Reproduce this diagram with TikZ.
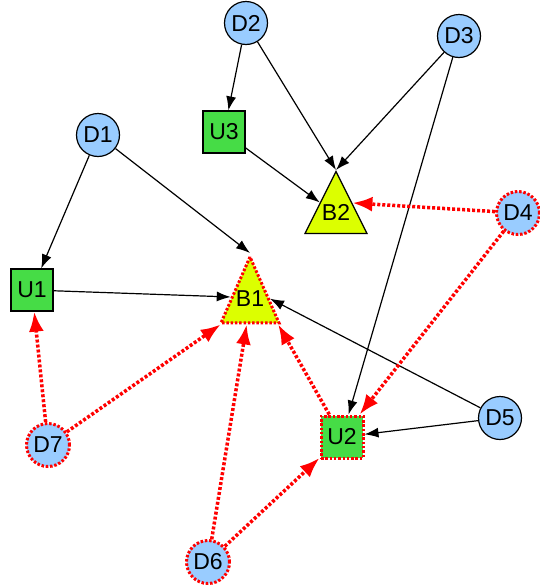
\documentclass[tikz,border=0pt]{standalone}
\usepackage{fontspec}
\setmainfont{Liberation Sans}
\usetikzlibrary{arrows.meta,shapes.geometric}
\definecolor{chanceblue}{RGB}{153,204,255}
\definecolor{decgreen}{RGB}{70,220,70}
\definecolor{payyellow}{RGB}{220,255,0}

\begin{document}
\begin{tikzpicture}[x=1pt,y=-1pt]
    \tikzset{chance/.style = {shape=circle, draw, fill=chanceblue, minimum size=43pt, inner sep=0pt, line width=1.2pt, font=\fontsize{23}{26}\selectfont}}
    \tikzset{decision/.style = {shape=rectangle, draw, fill=decgreen, minimum size=42pt, inner sep=0pt, line width=1.2pt, font=\fontsize{23}{26}\selectfont}}
    \tikzset{payoff/.style = {isosceles triangle, isosceles triangle stretches, shape border rotate=90, anchor=apex, draw, fill=payyellow, inner sep=0pt, line width=1.2pt}}
    \tikzset{paylabel/.style = {anchor=center, inner sep=0pt, font=\fontsize{23}{26}\selectfont}}
    \tikzset{redborder/.style = {draw=red, line width=3pt, dash pattern=on 2.5pt off 1.8pt}}
    \tikzset{edge/.style = {draw, line width=1.2pt, -{Latex[length=14pt,width=10pt]}}}
    \tikzset{redge/.style = {draw=red, line width=3.5pt, dash pattern=on 3pt off 2pt, -{Latex[length=20pt,width=15pt]}}}

    \useasboundingbox (0,0) rectangle (540,587);

    % vertices
    \node[chance] (d2) at (246,23) {D2};
    \node[chance] (d3) at (459,36) {D3};
    \node[chance] (d1) at (98,135) {D1};
    \node[decision] (u3) at (224,132) {U3};
    \node[payoff, minimum width=62pt, minimum height=62pt,
          label={[paylabel, yshift=-42pt]90:B2}] (b2) at (336,170) {};
    \node[chance, redborder] (d4) at (518,213) {D4};
    \node[decision] (u1) at (32,290) {U1};
    \node[payoff, redborder, minimum width=58pt, minimum height=66pt,
          label={[paylabel, yshift=-46pt]90:B1}] (b1) at (250,253) {};
    \node[chance] (d5) at (500,418) {D5};
    \node[decision, redborder] (u2) at (342,437) {U2};
    \node[chance, redborder] (d7) at (48,445) {D7};
    \node[chance, redborder] (d6) at (208,562) {D6};

    % edges
    \draw[edge] (d2) -- (u3);
    \draw[edge] (d2) -- (b2.apex);
    \draw[edge] (d3) -- (b2.apex);
    \draw[edge] (d3) -- (u2);
    \draw[edge] (u3) -- (b2);
    \draw[edge] (d1) -- (u1);
    \draw[edge] (d1) -- (b1.apex);
    \draw[edge] (u1) -- (b1.160);
    \draw[edge] (d5) -- (b1.15);
    \draw[edge] (d5) -- (u2);
    \draw[redge] (d4) -- (b2.35);
    \draw[redge] (d4) -- (u2);
    \draw[redge] (d7) -- (u1);
    \draw[redge] (d7) -- (b1);
    \draw[redge] (d6) -- (b1);
    \draw[redge] (d6) -- (u2);
    \draw[redge] (u2) -- (b1.-36);
\end{tikzpicture}
\end{document}
